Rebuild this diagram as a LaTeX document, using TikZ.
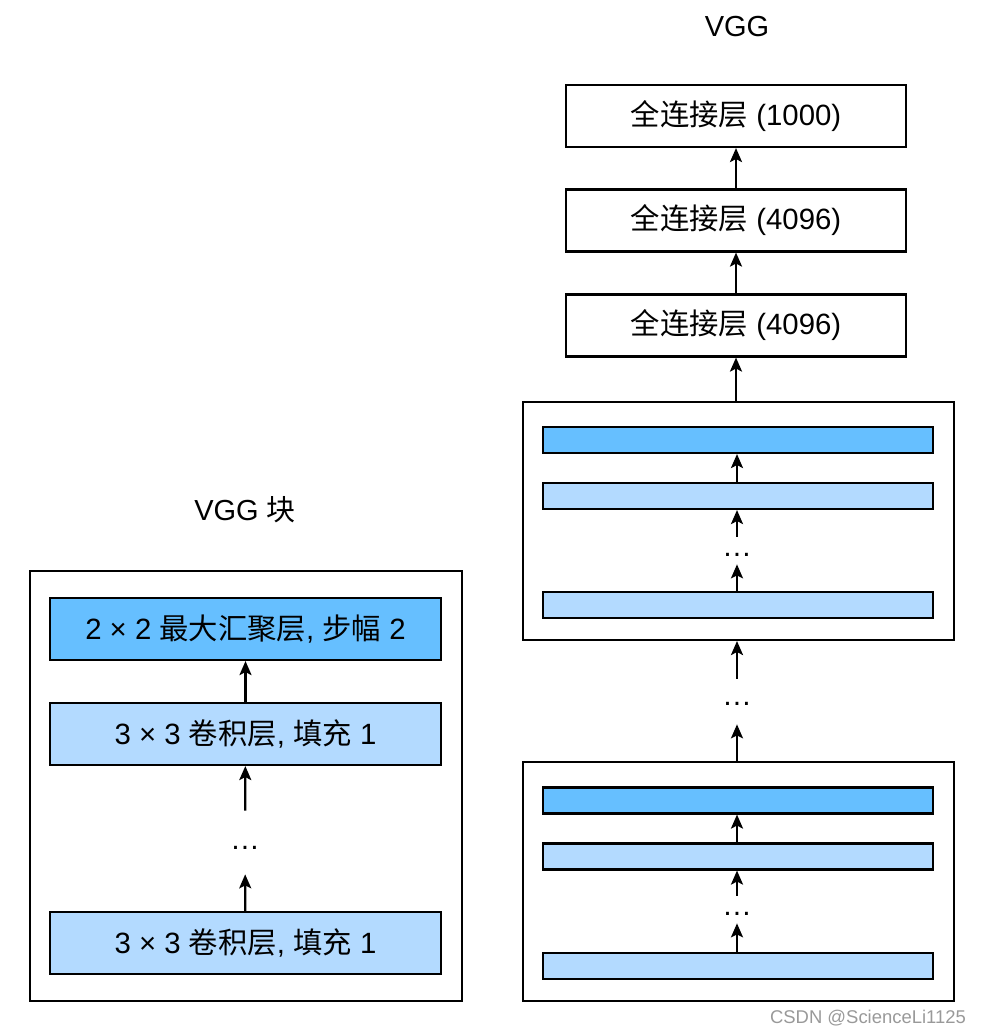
\documentclass[tikz,border=0pt]{standalone}
\usepackage{fontspec}
\setmainfont{Liberation Sans}
\newfontfamily\cjk{Noto Sans CJK SC}
\usetikzlibrary{arrows.meta}

\definecolor{pooldark}{RGB}{102,191,255}
\definecolor{convlight}{RGB}{179,218,255}

\newcommand{\zh}[1]{{\cjk #1}}

\tikzset{
  layer/.style={draw, line width=1.2pt, minimum height=1.24cm, inner sep=0pt,
    font=\fontsize{16.7}{19}\selectfont},
  fcbox/.style={layer, fill=white, minimum width=6.8cm},
  convbox/.style={layer, fill=convlight, minimum width=7.82cm},
  poolbox/.style={layer, fill=pooldark, minimum width=7.82cm},
  bar/.style={draw, line width=1.2pt, minimum width=7.8cm, minimum height=0.52cm, inner sep=0pt},
  block/.style={draw, line width=1.2pt, inner sep=0pt},
  ellip/.style={inner sep=0pt, anchor=base, font=\fontsize{17}{19}\selectfont},
  arr/.style={-{Stealth[length=0.28cm, width=0.24cm, inset=0.06cm]}, line width=1.3pt},
  heading/.style={font=\fontsize{16.5}{19}\selectfont}
}

\begin{document}
\begin{tikzpicture}[x=0.02cm, y=-0.02cm]
    \useasboundingbox (0,0) rectangle (981,1036);

    % VGG block
    \node[heading] (titleL) at (245, 510) {VGG \zh{块}};
    \node[block, minimum width=8.64cm, minimum height=8.6cm] (blockL) at (246, 786) {};
    \node[poolbox] (pool) at (245.5, 629) {2 × 2 \zh{最大汇聚层}, \zh{步幅} 2};
    \node[convbox] (convA) at (245.5, 734) {3 × 3 \zh{卷积层}, \zh{填充} 1};
    \node[ellip, text height=0.76cm, text depth=0.5cm] (dotsL) at (245, 849) {\dots};
    \node[convbox] (convB) at (245.5, 943) {3 × 3 \zh{卷积层}, \zh{填充} 1};

    \draw[arr] (convA) -- (pool);
    \draw[arr] (dotsL) -- (convA);
    \draw[arr] (convB) -- (dotsL);

    % VGG
    \node[heading] (titleR) at (737, 27) {VGG};
    \node[fcbox] (fcC) at (736, 116) {\zh{全连接层} (1000)};
    \node[fcbox] (fcB) at (736, 220.5) {\zh{全连接层} (4096)};
    \node[fcbox] (fcA) at (736, 325.5) {\zh{全连接层} (4096)};

    \node[block, minimum width=8.62cm, minimum height=4.76cm] (blockA) at (738.5, 521) {};
    \node[bar, fill=pooldark] (barA1) at (738, 440) {};
    \node[bar, fill=convlight] (barA2) at (738, 496) {};
    \node[ellip, text height=0.38cm, text depth=0.16cm] (dotsA) at (737, 556) {\dots};
    \node[bar, fill=convlight] (barA3) at (738, 605) {};

    \node[ellip, text height=0.52cm, text depth=0.38cm] (dotsM) at (737, 705) {\dots};

    \node[block, minimum width=8.62cm, minimum height=4.78cm] (blockB) at (738.5, 881.5) {};
    \node[bar, fill=pooldark] (barB1) at (738, 800.5) {};
    \node[bar, fill=convlight] (barB2) at (738, 856.5) {};
    \node[ellip, text height=0.38cm, text depth=0.16cm] (dotsB) at (737, 915) {\dots};
    \node[bar, fill=convlight] (barB3) at (738, 966) {};

    \draw[arr] (fcB) -- (fcC);
    \draw[arr] (fcA) -- (fcB);
    \draw[arr] (blockA.north -| fcA) -- (fcA);
    \draw[arr] (barA2.north -| dotsA) -- (barA1.south -| dotsA);
    \draw[arr] (dotsA) -- (barA2.south -| dotsA);
    \draw[arr] (barA3.north -| dotsA) -- (dotsA);
    \draw[arr] (dotsM) -- (blockA.south -| dotsM);
    \draw[arr] (blockB.north -| dotsM) -- (dotsM);
    \draw[arr] (barB2.north -| dotsB) -- (barB1.south -| dotsB);
    \draw[arr] (dotsB) -- (barB2.south -| dotsB);
    \draw[arr] (barB3.north -| dotsB) -- (dotsB);

    \node[text=black!40, font=\fontsize{10.5}{12}\selectfont] (mark) at (868, 1018) {CSDN @ScienceLi1125};
  \end{tikzpicture}
\end{document}
